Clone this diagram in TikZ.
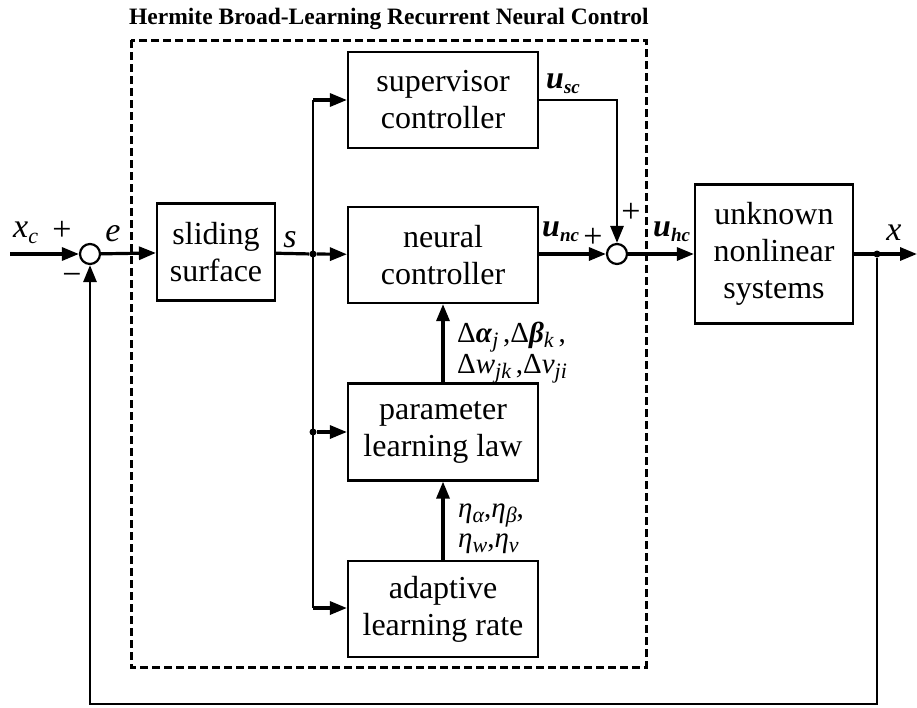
\documentclass[tikz,border=0pt]{standalone}
\usepackage{fontspec}
\setmainfont{Liberation Serif}
\usetikzlibrary{arrows.meta}

\newcommand{\lsub}[1]{\raisebox{-0.4ex}{\fontsize{22}{22}\selectfont\itshape #1}}
\newcommand{\usub}[1]{\raisebox{-0.4ex}{\fontsize{19}{19}\selectfont\bfseries\itshape #1}}

\begin{document}
\begin{tikzpicture}[x=1pt, y=-1pt, line join=miter,
  blk/.style={draw, line width=2.2pt, minimum width=190pt, minimum height=96pt,
    align=center, inner sep=0pt, font=\fontsize{32}{37}\selectfont},
  sumnode/.style={draw, circle, line width=2.2pt, minimum size=20pt, inner sep=0pt},
  sig/.style={line width=3.2pt, -{Triangle[length=17pt,width=13pt]}},
  wire/.style={line width=2.2pt},
  lbl/.style={inner sep=0pt, font=\fontsize{34}{36}\selectfont},
  dot/.style={circle, fill, inner sep=0pt, minimum size=7pt}]
  \useasboundingbox (0,0) rectangle (917,707);

  % titolo e riquadro tratteggiato
  \node[anchor=base west, inner sep=0pt, font=\fontsize{23.5}{26}\selectfont\bfseries] (title) at (129,24)
    {Hermite Broad-Learning Recurrent Neural Control};
  \draw[line width=3pt, dash pattern=on 8pt off 4pt] (131,40) rectangle (646,667);

  % blocchi
  \node[sumnode] (sum1) at (90,254) {};
  \node[blk, minimum width=118pt, minimum height=97pt] (slide) at (216,252) {sliding\\surface};
  \node[blk] (sup) at (443,100) {supervisor\\controller};
  \node[blk] (neu) at (443,255) {neural\\controller};
  \node[blk, minimum height=97pt] (par) at (443,432) {parameter\\learning law};
  \node[blk] (ada) at (443,609) {adaptive\\learning rate};
  \node[sumnode] (sum2) at (617,254) {};
  \node[blk, minimum width=158pt, minimum height=139pt] (plant) at (774,254) {unknown\\nonlinear\\systems};

  % punti di diramazione
  \node[dot] (js) at (313,254) {};
  \node[dot] (jp) at (313,432) {};
  \node[dot] (jx) at (877,254) {};
  \coordinate (bt) at (313,100);
  \coordinate (bb) at (313,608);
  \coordinate (in) at (10,254);
  \coordinate (out) at (917,254);
  \coordinate (usc) at (617,100);
  \coordinate (fbr) at (877,704);
  \coordinate (fbl) at (90,704);

  % segnali principali
  \draw[sig] (in) -- (sum1);
  \draw[sig] (sum1) -- (slide);
  \draw[line width=3.2pt] (slide) -- (js);
  \draw[sig] (js) -- (neu);
  \draw[sig] (neu.east |- sum2) -- (sum2);
  \draw[sig] (sum2) -- (plant.west |- sum2);
  \draw[sig] (plant.east |- jx) -- (out);
  \draw[sig, line width=2.8pt] (sup.east |- usc) -- (usc) -- (sum2);

  % diramazioni
  \draw[wire] (bt) -- (bb);
  \draw[sig] (bt) -- (sup);
  \draw[sig] (jp) -- (par);
  \draw[sig] (bb) -- (ada.west |- bb);
  \draw[sig] (ada) -- (par);
  \draw[sig] (par) -- (neu);

  % retroazione
  \draw[line width=2.8pt, -{Triangle[length=17pt,width=13pt]}] (jx) -- (fbr) -- (fbl) -- (sum1);

  % etichette
  \node[lbl, anchor=base west] (lxc) at (13,237) {\textit{x}\lsub{c}};
  \node[lbl] (lp1) at (62,231) {+};
  \node[lbl] (lm1) at (72,279) {−};
  \node[lbl, anchor=base] (le) at (113,241) {\textit{e}};
  \node[lbl, anchor=base] (ls) at (290,247) {\textit{s}};
  \node[lbl, anchor=base west, font=\fontsize{32}{34}\selectfont] (lusc) at (546,88) {\textbf{\textit{u}}\usub{sc}};
  \node[lbl, anchor=base west, font=\fontsize{32}{34}\selectfont] (lunc) at (542,236) {\textbf{\textit{u}}\usub{nc}};
  \node[lbl] (lp2) at (593,238) {+};
  \node[lbl] (lp3) at (631,213) {+};
  \node[lbl, anchor=base west, font=\fontsize{32}{34}\selectfont] (luhc) at (653,236) {\textbf{\textit{u}}\usub{hc}};
  \node[lbl, anchor=base] (lx) at (894,240) {\textit{x}};
  \node[lbl, anchor=base west, align=left, font=\fontsize{29}{31}\selectfont] (ldelta) at (457,373)
    {Δ\textbf{\textit{α}}\lsub{j}\,,Δ\textbf{\textit{β}}\lsub{k}\,,\\Δ\textit{w}\lsub{jk}\,,Δ\textit{v}\lsub{ji}};
  \node[lbl, anchor=base west, align=left, font=\fontsize{29}{30}\selectfont] (leta) at (458,547)
    {\textit{η}\lsub{α},\textit{η}\lsub{β},\\\textit{η}\lsub{w},\textit{η}\lsub{v}};
\end{tikzpicture}
\end{document}
